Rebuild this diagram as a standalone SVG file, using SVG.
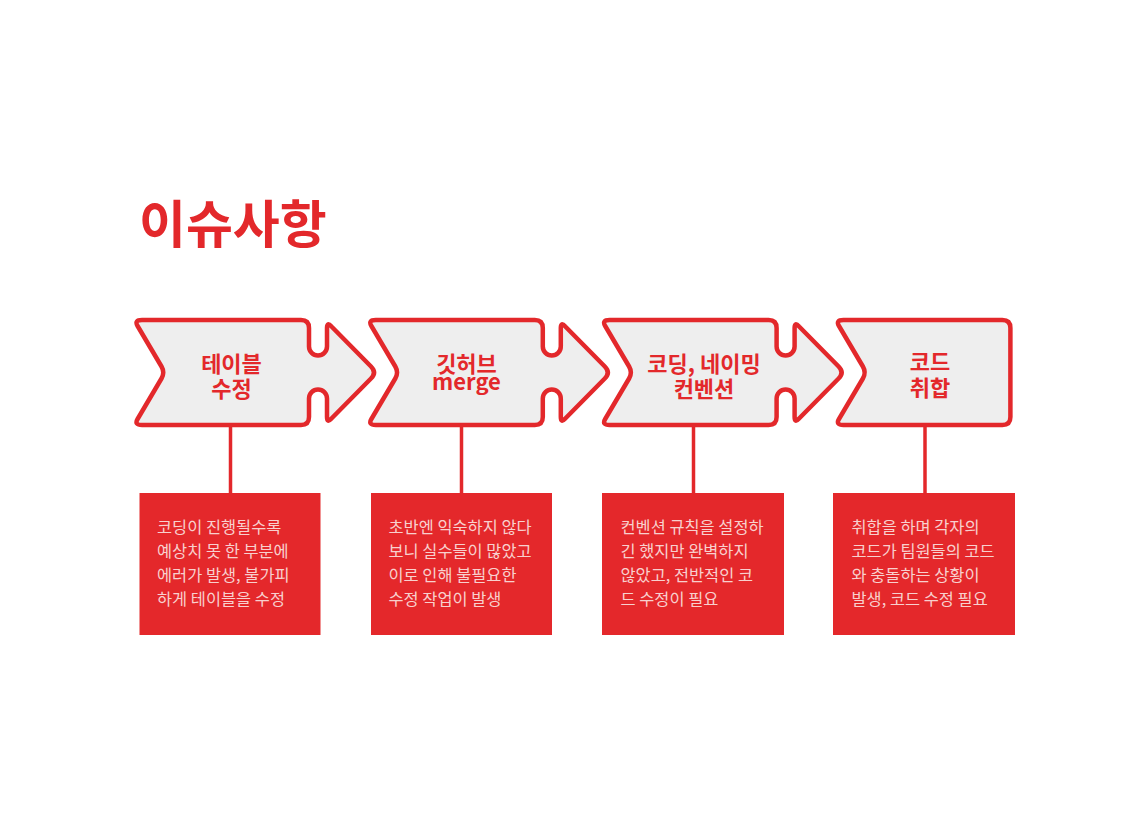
<svg xmlns="http://www.w3.org/2000/svg" width="1145" height="816" viewBox="0 0 1145 816">
  <style>
    .shape { fill: #eeeeee; stroke: #e3282b; stroke-width: 4.5; stroke-linejoin: round; }
    .label { font-family: "Noto Sans CJK KR", "Noto Sans", sans-serif; font-weight: 700; font-size: 22px; fill: #e3282b; text-anchor: middle; }
    .box { fill: #e4282b; }
    .desc { font-family: "Noto Sans CJK KR", "Noto Sans", sans-serif; font-weight: 400; font-size: 16.4px; fill: #f8d0ce; }
    .conn { stroke: #e3282b; stroke-width: 3.5; fill: none; }
    .title { font-family: "Noto Sans CJK KR", "Noto Sans", sans-serif; font-weight: 700; font-size: 51px; fill: #e3282b; }
  </style>
  <defs>
    <path id="arrowShape" d="M 142 320 L 301 320 Q 309 320 309 328 L 309 346.5 A 9 9 0 0 0 327 346.5 L 327 328 Q 327 321.5 331.5 326.5 L 371 366.5 Q 377 372.5 371 378.5 L 331.5 418.5 Q 327 423.5 327 417 L 327 398.5 A 9 9 0 0 0 309 398.5 L 309 417 Q 309 425 301 425 L 142 425 Q 134 425 137.6 419 L 161.5 378.5 Q 165 372.5 161.5 366.5 L 137.6 326 Q 134 320 142 320 Z"/>
    <path id="endShape" d="M 142 320 L 301 320 Q 309 320 309 328 L 309 417 Q 309 425 301 425 L 142 425 Q 134 425 137.6 419 L 161.5 378.5 Q 165 372.5 161.5 366.5 L 137.6 326 Q 134 320 142 320 Z"/>
  </defs>
  <rect width="1145" height="816" fill="#ffffff"/>
  <text class="title" x="139" y="243">이슈사항</text>

  <g id="connectors">
    <line class="conn" x1="230.5" y1="427" x2="230.5" y2="494"/>
    <line class="conn" x1="461.5" y1="427" x2="461.5" y2="494"/>
    <line class="conn" x1="693.5" y1="427" x2="693.5" y2="494"/>
    <line class="conn" x1="925" y1="427" x2="925" y2="494"/>
  </g>

  <g id="node1">
    <use href="#arrowShape" class="shape"/>
    <text class="label" x="231.5" y="372">테이블</text>
    <text class="label" x="231.5" y="397">수정</text>
  </g>
  <g id="node2">
    <use href="#arrowShape" class="shape" transform="translate(233.8 0)"/>
    <text class="label" x="466.5" y="372">깃허브</text>
    <text class="label" x="466.5" y="390">merge</text>
  </g>
  <g id="node3">
    <use href="#arrowShape" class="shape" transform="translate(467.6 0)"/>
    <text class="label" x="704" y="372">코딩, 네이밍</text>
    <text class="label" x="704" y="397">컨벤션</text>
  </g>
  <g id="node4">
    <use href="#endShape" class="shape" transform="translate(701.4 0)"/>
    <text class="label" x="930" y="370">코드</text>
    <text class="label" x="930" y="396">취합</text>
  </g>

  <g id="box1">
    <rect class="box" x="139.5" y="493" width="181" height="142"/>
    <text class="desc" x="157" y="533">코딩이 진행될수록</text>
    <text class="desc" x="157" y="557">예상치 못 한 부분에</text>
    <text class="desc" x="157" y="581">에러가 발생, 불가피</text>
    <text class="desc" x="157" y="605">하게 테이블을 수정</text>
  </g>
  <g id="box2">
    <rect class="box" x="371" y="493" width="181" height="142"/>
    <text class="desc" x="388.5" y="533">초반엔 익숙하지 않다</text>
    <text class="desc" x="388.5" y="557">보니 실수들이 많았고</text>
    <text class="desc" x="388.5" y="581">이로 인해 불필요한</text>
    <text class="desc" x="388.5" y="605">수정 작업이 발생</text>
  </g>
  <g id="box3">
    <rect class="box" x="602" y="493" width="182" height="142"/>
    <text class="desc" x="620.5" y="533">컨벤션 규칙을 설정하</text>
    <text class="desc" x="620.5" y="557">긴 했지만 완벽하지</text>
    <text class="desc" x="620.5" y="581">않았고, 전반적인 코</text>
    <text class="desc" x="620.5" y="605">드 수정이 필요</text>
  </g>
  <g id="box4">
    <rect class="box" x="833" y="493" width="182" height="142"/>
    <text class="desc" x="851.5" y="533">취합을 하며 각자의</text>
    <text class="desc" x="851.5" y="557">코드가 팀원들의 코드</text>
    <text class="desc" x="851.5" y="581">와 충돌하는 상황이</text>
    <text class="desc" x="851.5" y="605">발생, 코드 수정 필요</text>
  </g>
</svg>
